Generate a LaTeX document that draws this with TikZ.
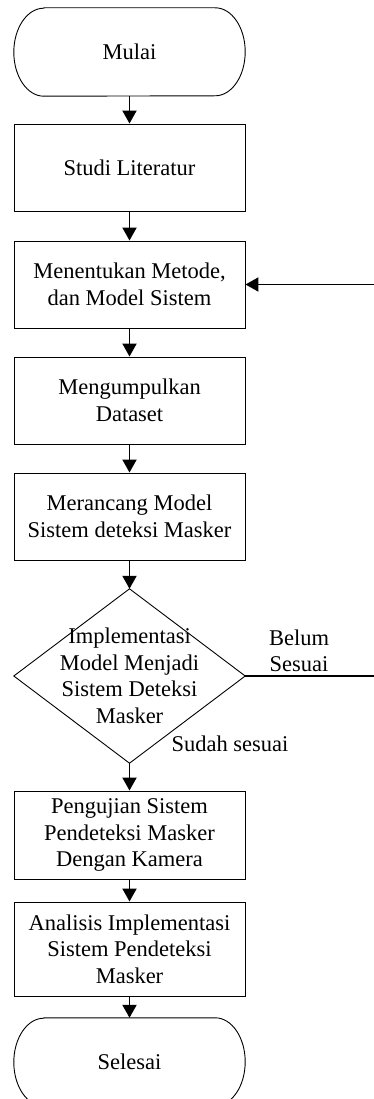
\documentclass[tikz,border=0pt]{standalone}
\usepackage{fontspec}
\setmainfont{Liberation Serif}
\usetikzlibrary{arrows.meta}
\tikzset{
  teks/.style={font=\fontsize{22.5}{26.5}\selectfont},
  proses/.style={draw, line width=0.9pt, minimum width=231pt, minimum height=87pt, align=center, inner sep=2pt},
  terminal/.style={minimum width=231pt, minimum height=88pt, inner sep=0pt},
  keputusan/.style={minimum width=231pt, minimum height=174pt, inner sep=0pt, align=center},
  panah/.style={line width=1.9pt, -{Triangle[width=14pt,length=13pt]}}
}

\begin{document}
\begin{tikzpicture}[x=1pt,y=1pt,every node/.style={teks}]
    \useasboundingbox (0,0) rectangle (374,-1099);
    % langkah-langkah
    \node[terminal] (mulai) at (129.5,-52) {Mulai};
    \node[proses] (studi) at (129.5,-167.5) {Studi Literatur};
    \node[proses] (metode) at (129.5,-284.5) {Menentukan Metode,\\dan Model Sistem};
    \node[proses] (dataset) at (129.5,-400.5) {Mengumpulkan\\Dataset};
    \node[proses] (rancang) at (129.5,-516.5) {Merancang Model\\Sistem deteksi Masker};
    \node[keputusan] (cek) at (129.5,-676) {Implementasi\\Model Menjadi\\Sistem Deteksi\\Masker};
    \node[proses, minimum height=88pt] (uji) at (129.5,-835) {Pengujian Sistem\\Pendeteksi Masker\\Dengan Kamera};
    \node[proses, minimum height=94pt] (analisis) at (129.5,-949) {Analisis Implementasi\\Sistem Pendeteksi\\Masker};
    \node[terminal] (selesai) at (129.5,-1062) {\raisebox{-7pt}{Selesai}};
    % bentuk terminal dan keputusan
    \foreach \n in {mulai,selesai}
        \draw[line width=0.9pt] ([xshift=30pt]\n.north west) -- ([xshift=-30pt]\n.north east)
            arc[start angle=90, end angle=-90, x radius=30pt, y radius=44pt]
            -- ([xshift=30pt]\n.south west)
            arc[start angle=270, end angle=90, x radius=30pt, y radius=44pt] -- cycle;
    \draw[line width=0.9pt] (cek.north) -- (cek.east) -- (cek.south) -- (cek.west) -- cycle;
    % panah
    \foreach \a/\b in {mulai/studi, studi/metode, metode/dataset, dataset/rancang, rancang/cek, cek/uji, uji/analisis, analisis/selesai}
        \draw[panah] (\a.south) -- (\b.north);
    \coordinate (balik) at (377,-676);
    \draw[panah] (cek.east) -- (balik) |- (metode.east);
    \node[inner sep=0pt, align=center] (belum) at (299,-651) {Belum\\Sesuai};
    \node[inner sep=0pt] (sudah) at (230,-744) {Sudah sesuai};
\end{tikzpicture}
\end{document}
